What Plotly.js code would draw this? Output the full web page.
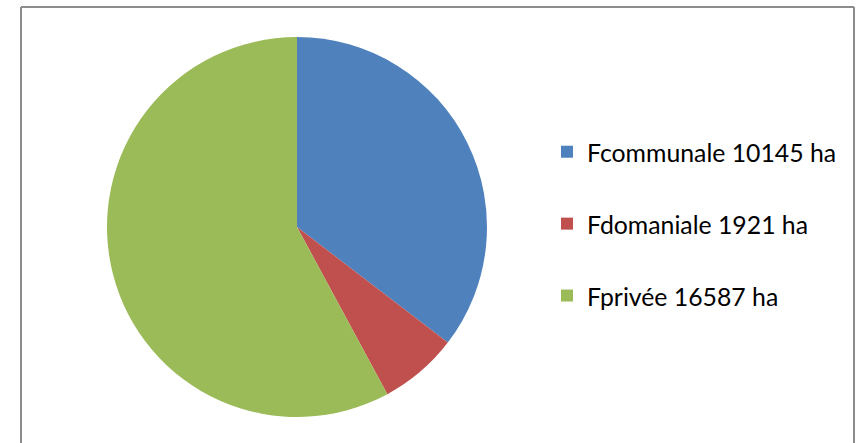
<!DOCTYPE html>
<html>
<head>
<meta charset="utf-8">
<script src="https://cdn.plot.ly/plotly-3.0.1.min.js"></script>
<style>html,body{margin:0;padding:0;background:#fff;}#chart{width:859px;height:443px;}</style>
</head>
<body>
<div id="chart"></div>
<script>
const categories = ["Fcommunale", "Fdomaniale", "Fprivée"];
const areas = [10145, 1921, 16587];
const legendLabels = ["Fcommunale 10145 ha", "Fdomaniale 1921 ha", "Fprivée 16587 ha"];
const colors = ["#4F81BD", "#C0504D", "#9BBB59"];

const W = 859, H = 443;
const cx = 297, cy = 227, r = 190;

const trace = {
  type: "pie",
  labels: legendLabels.map(s => '<span style="font-size:24.8px">' + s + "</span><br> "),
  values: areas,
  customdata: categories,
  sort: false,
  direction: "clockwise",
  rotation: 0,
  textinfo: "none",
  hoverinfo: "label+value+percent",
  marker: {colors: colors, line: {width: 0}},
  domain: {x: [(cx - r) / W, (cx + r) / W], y: [(H - cy - r) / H, (H - cy + r) / H]}
};

const layout = {
  width: W, height: H,
  margin: {l: 0, r: 0, t: 0, b: 0},
  paper_bgcolor: "#fff",
  showlegend: true,
  legend: {
    x: 547 / W, xanchor: "left",
    y: (H - 128) / H, yanchor: "top",
    valign: "top",
    font: {family: "Lato, Carlito, Calibri, sans-serif", size: 26.5, color: "#000"},
    bgcolor: "rgba(0,0,0,0)",
    borderwidth: 0
  },
  shapes: [
    {type: "line", xref: "paper", yref: "paper", x0: 21 / W, x1: 21 / W, y0: (H - 7) / H, y1: -0.1, line: {color: "#8C8C8C", width: 2}},
    {type: "line", xref: "paper", yref: "paper", x0: 21 / W, x1: 854 / W, y0: (H - 7) / H, y1: (H - 7) / H, line: {color: "#8C8C8C", width: 2}},
    {type: "line", xref: "paper", yref: "paper", x0: 854 / W, x1: 854 / W, y0: (H - 7) / H, y1: -0.1, line: {color: "#8C8C8C", width: 2}}
  ]
};

Plotly.newPlot("chart", [trace], layout, {displayModeBar: false, staticPlot: true});
</script>
</body>
</html>
